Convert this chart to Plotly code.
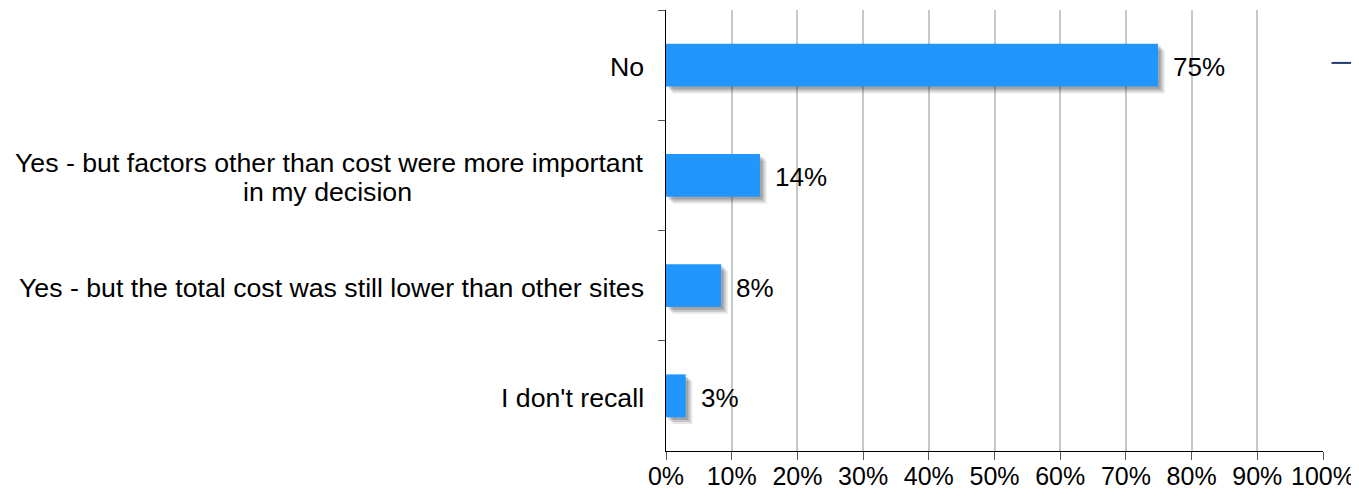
import plotly.graph_objects as go

categories = [
    "No",
    "Yes - but factors other than cost were more important in my decision",
    "Yes - but the total cost was still lower than other sites",
    "I don't recall",
]
label_lines = [
    ["No"],
    ["Yes - but factors other than cost were more important", "in my decision"],
    ["Yes - but the total cost was still lower than other sites"],
    ["I don't recall"],
]
values = [74.9, 14.3, 8.4, 3.0]
value_labels = ["75%", "14%", "8%", "3%"]
x_ticks = [0, 10, 20, 30, 40, 50, 60, 70, 80, 90, 100]
x_tick_labels = [f"{t}%" for t in x_ticks]

FONT = "Liberation Sans, Arial, sans-serif"
BAR_COLOR = "#2196FF"
LABEL_SIZE = 26.7

fig = go.Figure()

# soft shadow layers
for shift, alpha in [(1.0, 0.10), (0.7, 0.14), (0.4, 0.16)]:
    fig.add_trace(go.Bar(
        y=categories, x=values, base=shift, orientation="h",
        marker=dict(color=f"rgba(0,0,0,{alpha})", line=dict(width=0)),
        width=0.39, offset=-0.195 + shift * 0.06,
        hoverinfo="skip", showlegend=False,
    ))

fig.add_trace(go.Bar(
    y=categories, x=values, orientation="h",
    marker=dict(color=BAR_COLOR, line=dict(width=0)),
    width=0.39, offset=-0.195,
    showlegend=False,
))

for cat, lines, v, lab in zip(categories, label_lines, values, value_labels):
    fig.add_annotation(x=v, y=cat, xref="x", yref="y", text=lab, showarrow=False,
                       xanchor="left", xshift=13, yshift=-2,
                       font=dict(family=FONT, size=26, color="black"))
    if len(lines) == 1:
        fig.add_annotation(x=0, y=cat, xref="paper", yref="y", text=lines[0], showarrow=False,
                           xanchor="right", xshift=-20, yshift=-2,
                           font=dict(family=FONT, size=LABEL_SIZE, color="black"))
    else:
        fig.add_annotation(x=0, y=cat, xref="paper", yref="y", text=lines[0], showarrow=False,
                           xanchor="right", xshift=-20, yshift=12,
                           font=dict(family=FONT, size=LABEL_SIZE, color="black"))
        fig.add_annotation(x=0, y=cat, xref="paper", yref="y", text=lines[1], showarrow=False,
                           xanchor="right", xshift=-20, yshift=-17, width=633, align="center",
                           font=dict(family=FONT, size=LABEL_SIZE, color="black"))

# legend-like dash at right
fig.add_shape(type="line", xref="paper", yref="paper", x0=1.013, x1=1.045, y0=0.88, y1=0.88,
              line=dict(color="#1F3A73", width=2))

fig.update_layout(
    width=1351, height=488,
    margin=dict(l=658, r=36, t=2, b=45),
    plot_bgcolor="white", paper_bgcolor="white",
    barmode="overlay",
    font=dict(family=FONT, size=25, color="black"),
    xaxis=dict(range=[0, 100], tickvals=x_ticks, ticktext=x_tick_labels,
               showgrid=True, gridcolor="#C8C8C8", gridwidth=2,
               showline=True, linecolor="black", linewidth=1,
               ticks="outside", ticklen=8, tickcolor="#555555",
               ticklabelstandoff=-5,
               tickfont=dict(family=FONT, size=25), zeroline=False, fixedrange=True),
    yaxis=dict(autorange="reversed", showticklabels=False, showgrid=False,
               showline=True, linecolor="black", linewidth=1,
               ticks="outside", ticklen=7, tickcolor="#555555", tickson="boundaries",
               zeroline=False),
)

fig.write_html("out.html")
